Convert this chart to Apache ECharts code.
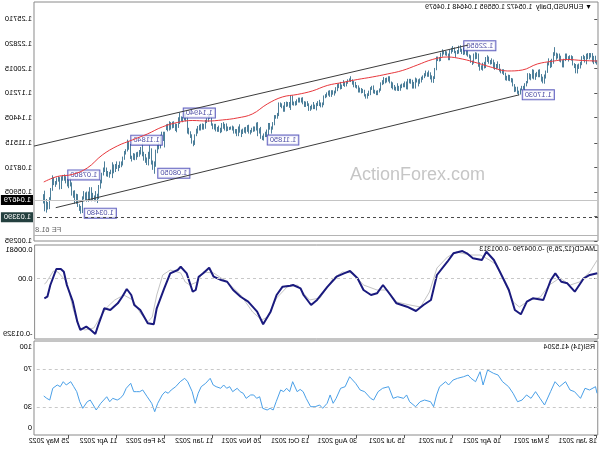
<!DOCTYPE html>
<html><head><meta charset="utf-8">
<script src="https://cdn.jsdelivr.net/npm/echarts@6/dist/echarts.min.js"></script>
<style>
html,body{margin:0;padding:0;background:#fff;}
#chart{width:600px;height:450px;transform:scaleX(-1);}
</style></head>
<body><div id="chart"></div>
<script>
// bar index 0 = 18 Jan 2021 (trading days), labels every 32 bars
const tickIdx=[0,32,64,96,128,160,192,224,256,288,320,352];
const tickLabels=['18 Jan 2021','3 Mar 2021','16 Apr 2021','1 Jun 2021','15 Jul 2021','30 Aug 2021','13 Oct 2021','26 Nov 2021','11 Jan 2022','24 Feb 2022','11 Apr 2022','25 May 2022'];
const priceTicks=[1.25710,1.22820,1.20015,1.17210,1.14405,1.11515,1.08710,1.05905,1.03100,1.00295];

const lows=[
1.2054,1.2070,1.2060,1.2080,1.2136,1.2115,1.2117,1.2058,1.2078,1.2115,
1.2048,1.2010,1.2005,1.1953,1.1955,1.2015,1.2045,1.2100,1.2110,1.2090,1.2115,1.2095,1.2022,1.2023,1.2080,1.2090,1.2125,1.2110,1.2155,1.2065,
1.2025,1.2015,1.2045,1.1960,1.1895,1.1836,1.1840,1.1860,1.1910,1.1910,1.1915,1.1880,1.1885,1.1895,1.1875,1.1885,1.1840,1.1805,1.1762,1.1770,1.1760,1.1712,1.1703,
1.1720,1.1745,1.1740,1.1805,1.1850,1.1865,1.1870,1.1870,1.1875,1.1935,1.1950,1.1955,1.1975,1.2010,1.2000,1.1995,1.2010,1.2060,1.2055,1.2065,1.2085,1.2015,
1.2010,1.1985,1.1995,1.1985,1.2030,1.2120,1.2115,1.2065,1.2050,1.2075,1.2125,1.2145,1.2160,1.2170,1.2165,1.2175,1.2200,1.2180,1.2175,1.2135,1.2185,
1.2200,1.2180,1.2105,1.2105,1.2155,1.2160,1.2170,1.2145,1.2095,1.2090,1.2095,1.1990,1.1890,1.1845,1.1850,1.1885,1.1915,1.1915,1.1920,1.1900,1.1880,1.1850,
1.1835,1.1805,1.1850,1.1780,1.1780,1.1780,1.1835,1.1840,1.1770,1.1772,1.1795,1.1795,1.1785,1.1755,1.1752,1.1755,1.1755,1.1760,1.1770,1.1785,1.1840,1.1860,
1.1850,1.1840,1.1830,1.1820,1.1755,1.1735,1.1705,1.1705,1.1720,1.1725,1.1765,1.1705,1.1695,1.1665,1.1665,1.1690,1.1730,1.1725,1.1735,1.1735,1.1780,1.1790,
1.1795,1.1825,1.1855,1.1860,1.1835,1.1805,1.1800,1.1810,1.1775,1.1770,1.1785,1.1750,1.1725,1.1700,1.1710,1.1685,1.1685,1.1700,1.1680,1.1670,1.1590,1.1565,
1.1565,1.1580,1.1580,1.1530,1.1545,1.1545,1.1540,1.1525,1.1525,1.1580,1.1570,1.1570,1.1600,1.1620,1.1620,1.1620,1.1590,1.1585,1.1585,1.1590,1.1535,
1.1560,1.1575,1.1570,1.1515,1.1515,1.1555,1.1570,1.1465,1.1435,1.1435,1.1360,1.1310,1.1265,1.1310,1.1250,1.1225,1.1225,1.1185,1.1190,1.1205,1.1265,1.1235,
1.1300,1.1290,1.1285,1.1275,1.1255,1.1265,1.1285,1.1265,1.1275,1.1260,1.1225,1.1275,1.1235,1.1235,1.1265,1.1265,1.1300,1.1310,1.1305,1.1295,1.1290,1.1300,1.1320,
1.1280,1.1270,1.1285,1.1285,1.1290,1.1310,1.1315,1.1355,1.1435,1.1400,1.1385,1.1320,1.1310,1.1310,1.1300,1.1300,1.1265,1.1235,1.1135,1.1120,1.1150,
1.1215,1.1255,1.1265,1.1405,1.1415,1.1395,1.1405,1.1375,1.1330,1.1280,1.1295,1.1330,1.1325,1.1310,1.1300,1.1290,1.1305,1.1106,1.1180,1.1140,
1.1095,1.1085,1.1040,1.0885,1.0805,1.0850,1.0910,1.0975,1.0900,1.0905,1.0930,1.0955,1.1005,1.1025,1.1000,1.0995,1.0965,1.0960,1.0965,1.0945,1.0975,1.1080,1.1060,
1.1025,1.0965,1.0900,1.0880,1.0870,1.0835,1.0860,1.0825,1.0810,1.0755,1.0800,1.0760,1.0770,1.0775,1.0825,1.0785,1.0695,1.0635,1.0515,1.0470,1.0490,
1.0490,1.0495,1.0490,1.0495,1.0485,1.0485,1.0505,1.0510,1.0355,1.0348,1.0380,1.0425,1.0460,1.0460,1.0530,1.0555,1.0660,1.0640,1.0660,1.0695,1.0725,1.0725,
1.0630,1.0625,1.0715,1.0680,1.0655,1.0675,1.0610,1.0505,1.0400,1.0395,1.0360,1.0375,1.0465];

const highs=[
1.2093,1.2145,1.2143,1.2175,1.2175,1.2176,1.2175,1.2168,1.2140,1.2155,
1.2140,1.2075,1.2055,1.2045,1.2050,1.2060,1.2140,1.2150,1.2150,1.2140,1.2170,1.2170,1.2110,1.2095,1.2145,1.2170,1.2170,1.2180,1.2243,1.2185,
1.2110,1.2095,1.2115,1.2070,1.1975,1.1930,1.1905,1.1935,1.1990,1.1985,1.1960,1.1945,1.1985,1.1990,1.1935,1.1945,1.1945,1.1855,1.1830,1.1800,1.1800,1.1770,1.1745,
1.1790,1.1790,1.1820,1.1885,1.1890,1.1925,1.1928,1.1915,1.1950,1.1990,1.1990,1.1995,1.2050,1.2080,1.2050,1.2070,1.2100,1.2115,1.2095,1.2135,1.2150,1.2130,
1.2075,1.2065,1.2035,1.2070,1.2170,1.2180,1.2185,1.2170,1.2090,1.2150,1.2160,1.2245,1.2230,1.2230,1.2240,1.2225,1.2265,1.2260,1.2210,1.2200,1.2240,
1.2255,1.2235,1.2215,1.2170,1.2195,1.2200,1.2200,1.2218,1.2180,1.2130,1.2135,1.2135,1.2005,1.1910,1.1920,1.1955,1.1975,1.1955,1.1975,1.1945,1.1920,1.1905,
1.1885,1.1875,1.1885,1.1895,1.1845,1.1870,1.1880,1.1880,1.1880,1.1850,1.1850,1.1830,1.1825,1.1815,1.1800,1.1830,1.1790,1.1810,1.1840,1.1850,1.1910,1.1910,
1.1895,1.1890,1.1900,1.1865,1.1840,1.1770,1.1750,1.1745,1.1755,1.1805,1.1800,1.1785,1.1745,1.1715,1.1705,1.1755,1.1765,1.1775,1.1780,1.1805,1.1810,1.1845,
1.1857,1.1875,1.1910,1.1885,1.1875,1.1855,1.1845,1.1865,1.1815,1.1845,1.1830,1.1820,1.1785,1.1745,1.1750,1.1750,1.1750,1.1745,1.1725,1.1705,1.1690,1.1610,
1.1610,1.1640,1.1625,1.1605,1.1585,1.1615,1.1585,1.1570,1.1600,1.1625,1.1620,1.1625,1.1670,1.1665,1.1665,1.1665,1.1645,1.1625,1.1620,1.1690,1.1695,
1.1615,1.1615,1.1620,1.1615,1.1575,1.1600,1.1610,1.1610,1.1490,1.1465,1.1465,1.1385,1.1335,1.1375,1.1375,1.1300,1.1275,1.1255,1.1230,1.1330,1.1315,1.1385,
1.1380,1.1335,1.1335,1.1320,1.1295,1.1355,1.1350,1.1330,1.1325,1.1310,1.1300,1.1360,1.1335,1.1305,1.1305,1.1335,1.1345,1.1335,1.1330,1.1335,1.1370,1.1365,1.1385,
1.1375,1.1320,1.1345,1.1330,1.1365,1.1365,1.1370,1.1445,1.1480,1.1485,1.1430,1.1410,1.1365,1.1370,1.1365,1.1355,1.1340,1.1310,1.1245,1.1175,1.1245,
1.1280,1.1320,1.1450,1.1485,1.1485,1.1445,1.1450,1.1494,1.1440,1.1365,1.1370,1.1395,1.1390,1.1385,1.1395,1.1365,1.1360,1.1275,1.1275,1.1275,
1.1240,1.1150,1.1125,1.1070,1.0935,1.0945,1.1085,1.1120,1.1045,1.0980,1.1020,1.1045,1.1140,1.1100,1.1065,1.1045,1.1040,1.1025,1.1030,1.1000,1.1135,1.1170,1.1184,
1.1075,1.1055,1.0990,1.0935,1.0935,1.0895,1.0935,1.0905,1.0900,1.0925,1.0840,1.0815,1.0825,1.0865,1.0935,1.0865,1.0805,1.0725,1.0665,1.0565,1.0595,
1.0545,1.0575,1.0640,1.0640,1.0590,1.0590,1.0580,1.0595,1.0535,1.0425,1.0445,1.0560,1.0565,1.0605,1.0600,1.0695,1.0750,1.0740,1.0735,1.0765,1.0786,1.0780,
1.0765,1.0755,1.0765,1.0750,1.0710,1.0750,1.0775,1.0630,1.0525,1.0470,1.0505,1.0600,1.0560];

// red moving average: [bar, price]
const maLine=[[0,1.2090],[10,1.2096],[20,1.2107],[30,1.2087],[40,1.2056],[50,1.1987],[60,1.1976],[70,1.2016],[80,1.2067],[90,1.2113],[100,1.2136],[110,1.2107],[120,1.2044],[130,1.1981],[140,1.1941],[150,1.1907],[160,1.1878],[170,1.1844],[180,1.1810],[190,1.1747],[200,1.1707],[210,1.1678],[220,1.1598],[230,1.1483],[240,1.1438],[250,1.1415],[260,1.1403],[270,1.1409],[280,1.1386],[290,1.1335],[300,1.1254],[310,1.1186],[320,1.1117],[330,1.1014],[340,1.0865],[350,1.0791],[360,1.0768],[369,1.0705]];

const channelUpper=[[86,1.2273],[375.5,1.1116]];
const channelLower=[[52,1.1703],[361,1.0411]];

const pivotIdx=[91,52,222,278,295,313,344,355];
const pivotPrice=[1.2265,1.1703,1.1185,1.1494,1.0805,1.1184,1.0348,1.0786];
const pivotText=['1.22650','1.17030','1.11850','1.14940','1.08050','1.11840','1.03480','1.07860'];

const lastPrice=1.04679, supportLine=1.03390, feLevel=1.0087;

const macdMain=[[0,0.00123],[5,0.00083],[9,0.00004],[15,-0.00317],[20,-0.00116],[24,-0.00078],[28,0.00123],[31,-0.00037],[36,-0.00515],[43,-0.00475],[47,-0.00556],[51,-0.00858],[55,-0.00755],[59,-0.00276],[65,0.00162],[69,0.00442],[74,0.00640],[77,0.00442],[83,0.00482],[87,0.00602],[90,0.00657],[96,0.00602],[100,0.00401],[107,0.00083],[111,-0.00515],[116,-0.00635],[121,-0.00779],[127,-0.00676],[134,-0.00595],[138,-0.00396],[143,-0.00157],[147,-0.00355],[151,-0.00396],[156,-0.00276],[160,0.00004],[165,0.00178],[169,0.00123],[174,0.00042],[180,-0.00197],[187,-0.00515],[191,-0.00635],[196,-0.00396],[198,-0.00236],[203,-0.00157],[205,-0.00173],[210,-0.00197],[214,-0.00396],[218,-0.00795],[223,-0.01097],[227,-0.00795],[233,-0.00556],[238,-0.00437],[243,-0.00276],[247,-0.00078],[251,-0.00037],[256,0.00042],[259,0.00257],[263,0.00123],[266,0.00042],[268,-0.00276],[270,-0.00317],[274,0.00123],[278,0.00281],[280,0.00202],[285,0.00123],[289,-0.00236],[294,-0.00714],[296,-0.01097],[300,-0.01073],[305,-0.00755],[309,-0.00635],[311,-0.00396],[314,-0.00252],[317,-0.00437],[320,-0.00595],[325,-0.00755],[329,-0.00714],[333,-0.01114],[335,-0.01329],[338,-0.01233],[341,-0.01154],[345,-0.01233],[347,-0.01035],[350,-0.00556],[354,-0.00157],[356,0.00162],[358,0.00226],[361,0.00226],[365,-0.00157],[367,-0.00437],[369,-0.00479]];

const macdSignal=[[0,0.00442],[5,0.00155],[12,-0.00085],[18,-0.00157],[25,0.00011],[32,-0.00157],[38,-0.00444],[45,-0.00515],[52,-0.00683],[56,-0.00563],[63,0.00011],[67,0.00322],[72,0.00442],[78,0.00561],[85,0.00561],[94,0.00633],[100,0.00513],[107,0.00250],[112,-0.00324],[118,-0.00683],[125,-0.00635],[134,-0.00563],[140,-0.00276],[147,-0.00276],[156,-0.00157],[163,0.00131],[170,0.00155],[176,0.00011],[185,-0.00468],[192,-0.00515],[198,-0.00276],[200,-0.00157],[207,-0.00204],[214,-0.00468],[220,-0.00922],[224,-0.00994],[230,-0.00803],[238,-0.00396],[247,-0.00085],[256,0.00131],[263,0.00155],[267,-0.00085],[272,-0.00157],[275,-0.00085],[278,0.00131],[285,0.00202],[290,0.00083],[294,-0.00396],[297,-0.00922],[300,-0.01042],[305,-0.00827],[310,-0.00515],[316,-0.00396],[322,-0.00515],[327,-0.00683],[332,-0.00946],[336,-0.01185],[342,-0.01233],[346,-0.01161],[350,-0.00707],[354,-0.00085],[360,0.00155],[363,0.00178],[368,-0.00109],[369,-0.00131]];

const rsiLine=[[0,44.4],[1,51.4],[5,47.9],[8,49.7],[11,39.0],[15,46.1],[18,47.9],[21,56.7],[25,51.4],[28,56.7],[31,46.1],[35,31.9],[38,39.0],[41,46.1],[44,39.0],[47,42.6],[50,37.2],[53,35.4],[56,44.4],[59,51.4],[63,56.7],[66,63.8],[69,65.6],[73,69.1],[76,53.2],[78,67.3],[81,56.7],[84,60.3],[86,63.8],[89,62.0],[93,60.3],[96,58.5],[99,53.2],[101,56.7],[105,51.4],[107,42.6],[109,30.1],[111,35.4],[115,37.2],[118,35.4],[121,30.1],[125,35.4],[127,42.6],[129,39.0],[133,40.7],[136,39.0],[139,51.4],[143,49.7],[146,46.1],[149,37.2],[151,39.0],[155,46.1],[158,47.9],[161,55.0],[165,62.0],[168,51.4],[171,49.7],[174,39.0],[176,33.7],[178,42.6],[180,33.7],[183,28.4],[185,31.9],[188,30.1],[191,30.1],[194,39.0],[196,46.1],[198,48.5],[200,46.1],[203,56.7],[205,46.1],[207,49.7],[209,46.1],[211,47.9],[214,35.4],[216,26.6],[218,28.4],[220,26.6],[223,28.4],[225,40.7],[227,39.0],[229,42.6],[231,42.6],[234,39.0],[236,44.4],[238,46.1],[240,49.7],[243,46.1],[245,51.4],[247,49.7],[249,53.2],[251,49.7],[254,51.4],[256,53.2],[258,60.3],[261,55.0],[264,51.4],[266,44.4],[268,33.7],[270,46.1],[273,56.7],[275,60.3],[278,56.7],[281,51.4],[284,47.9],[286,44.4],[288,46.1],[290,42.6],[293,33.7],[295,24.8],[297,33.7],[300,40.7],[303,47.9],[305,46.1],[307,46.1],[309,46.1],[311,55.0],[314,49.7],[316,42.6],[318,39.0],[320,37.2],[323,39.0],[325,35.4],[327,40.7],[329,37.2],[331,33.7],[334,26.6],[336,31.9],[338,37.2],[340,35.4],[343,28.4],[345,35.4],[347,46.1],[349,51.4],[351,56.7],[354,53.2],[356,56.7],[358,51.4],[360,53.2],[363,49.7],[365,37.2],[367,39.0],[369,41.5]];

const FONT='Liberation Sans';
const chart=echarts.init(document.getElementById('chart'),null,{renderer:'canvas'});
const barColor='#4d7f9a';
const xBase={type:'value',min:-0.5,max:375.5,axisLine:{show:false},axisTick:{show:false},axisLabel:{show:false},splitLine:{show:false}};
const near=(a,b)=>Math.abs(a-b)<1e-7;

const option={
  animation:false,
  backgroundColor:'#fff',
  grid:[
    {left:2,right:34,top:2,height:239,show:true,borderColor:'#8a8a8a',borderWidth:1},
    {left:2,right:34,top:245,height:94,show:true,borderColor:'#8a8a8a',borderWidth:1},
    {left:2,right:34,top:341,height:94,show:true,borderColor:'#8a8a8a',borderWidth:1}
  ],
  xAxis:[
    Object.assign({gridIndex:0},xBase),
    Object.assign({gridIndex:1},xBase),
    {gridIndex:2,type:'value',min:-0.5,max:375.5,splitLine:{show:false},
     axisLine:{show:false},
     axisTick:{show:true,customValues:tickIdx,length:3,lineStyle:{color:'#555'}},
     axisLabel:{show:true,customValues:tickIdx,align:'left',margin:3,fontSize:7,fontFamily:FONT,color:'#000',
       formatter:v=>tickLabels[tickIdx.indexOf(Math.round(v))]||''}}
  ],
  yAxis:[
    {gridIndex:0,type:'value',position:'right',min:1.00295,max:1.27656,splitLine:{show:false},axisLine:{show:false},
     axisTick:{show:true,customValues:priceTicks,length:3,lineStyle:{color:'#555'}},
     axisLabel:{customValues:priceTicks,margin:2,fontSize:7.5,fontFamily:FONT,color:'#000',formatter:v=>v.toFixed(5)}},
    {gridIndex:1,type:'value',position:'right',min:-0.01449,max:0.00801,splitLine:{show:false},axisLine:{show:false},
     axisTick:{show:true,customValues:[0.00681,0,-0.01329],length:3,lineStyle:{color:'#555'}},
     axisLabel:{customValues:[0.00681,0,-0.01329],margin:2,fontSize:7.5,fontFamily:FONT,color:'#000',
       formatter:v=>near(v,0)?'0.00':v.toFixed(5)}},
    {gridIndex:2,type:'value',position:'right',min:0,max:100,splitLine:{show:false},axisLine:{show:false},
     axisTick:{show:true,customValues:[100,70,30,0],length:3,lineStyle:{color:'#555'}},
     axisLabel:{customValues:[100,70,30,0],margin:2,fontSize:7.5,fontFamily:FONT,color:'#000',
       formatter:v=>v===100?'{t|100}':(v===0?'{b|0}':String(v)),
       rich:{t:{fontSize:7.5,fontFamily:FONT,padding:[12,0,0,0]},b:{fontSize:7.5,fontFamily:FONT,padding:[0,0,14,0]}}}}
  ],
  graphic:[
    {type:'text',left:8,top:4,style:{text:'\u25BC EURUSD,Daily  1.05472 1.05595 1.04648 1.04679',fontSize:7,fontFamily:FONT,fill:'#000'}},
    {type:'text',left:5,top:246,style:{text:'MACD(12,26,9) -0.004790 -0.001313',fontSize:7,fontFamily:FONT,fill:'#000'}},
    {type:'text',left:5,top:344,style:{text:'RSI(14) 41.5204',fontSize:7,fontFamily:FONT,fill:'#000'}},
    {type:'text',x:250,y:175,scaleX:-1,style:{text:'ActionForex.com',fontSize:18,fontFamily:FONT,fill:'#c6c6c6',align:'left',verticalAlign:'middle'}}
  ],
  series:[
    {type:'custom',xAxisIndex:0,yAxisIndex:0,silent:true,
     data:lows.map((l,i)=>[i,l,highs[i]]),encode:{x:0,y:[1,2]},
     renderItem:function(params,api){
       const a=api.coord([api.value(0),api.value(1)]);
       const b=api.coord([api.value(0),api.value(2)]);
       const x=Math.round(a[0])+0.5;
       return {type:'line',shape:{x1:x,y1:a[1]+0.5,x2:x,y2:b[1]-0.5},style:{stroke:barColor,lineWidth:1}};
     }},
    {type:'line',xAxisIndex:0,yAxisIndex:0,data:maLine,symbol:'none',smooth:0.4,silent:true,
     lineStyle:{color:'#e8383d',width:1},
     markLine:{symbol:['none','none'],silent:true,animation:false,
       data:[
        {yAxis:lastPrice,lineStyle:{color:'#c4c4c4',type:'solid',width:1},
         label:{show:true,position:'end',distance:1,formatter:'1.04679',backgroundColor:'#000',color:'#fff',fontSize:7.5,fontFamily:FONT,padding:[1,3,1,2]}},
        {yAxis:supportLine,lineStyle:{color:'#4a4a4a',type:[3,3],width:1},
         label:{show:true,position:'end',distance:1,formatter:'1.03390',backgroundColor:'#24403f',color:'#fff',fontSize:7.5,fontFamily:FONT,padding:[1,3,1,2]}},
        {yAxis:feLevel,lineStyle:{color:'#b4b4b4',type:'solid',width:1},
         label:{show:true,position:'insideEndTop',distance:1,formatter:'FE 61.8',color:'#666',fontSize:7.5,fontFamily:FONT}}
       ]}},
    {type:'line',xAxisIndex:0,yAxisIndex:0,data:channelUpper,symbol:'none',silent:true,lineStyle:{color:'#3c3c3c',width:1}},
    {type:'line',xAxisIndex:0,yAxisIndex:0,data:channelLower,symbol:'none',silent:true,lineStyle:{color:'#3c3c3c',width:1}},
    {type:'scatter',xAxisIndex:0,yAxisIndex:0,silent:true,symbolSize:1,itemStyle:{color:'rgba(0,0,0,0)'},
     data:pivotIdx.map((v,k)=>[v,pivotPrice[k],pivotText[k]]),
     label:{show:true,position:'left',distance:3,formatter:p=>p.data[2],backgroundColor:'#fff',borderColor:'#3b3bb0',borderWidth:1,
       color:'#1c1c8c',fontSize:7.5,fontFamily:FONT,padding:[1,2,0,2]}},
    {type:'line',xAxisIndex:1,yAxisIndex:1,data:macdSignal,symbol:'none',silent:true,lineStyle:{color:'#c4c4c4',width:1},
     markLine:{symbol:['none','none'],silent:true,label:{show:false},data:[{yAxis:0,lineStyle:{color:'#c8c8c8',type:[3,3],width:1}}]}},
    {type:'line',xAxisIndex:1,yAxisIndex:1,data:macdMain,symbol:'none',silent:true,lineStyle:{color:'#1a1a7e',width:2}},
    {type:'line',xAxisIndex:2,yAxisIndex:2,data:rsiLine,symbol:'none',silent:true,lineStyle:{color:'#4aa0e8',width:1},
     markLine:{symbol:['none','none'],silent:true,label:{show:false},
       data:[{yAxis:70,lineStyle:{color:'#c8c8c8',type:[3,3],width:1}},{yAxis:30,lineStyle:{color:'#c8c8c8',type:[3,3],width:1}}]}}
  ]
};
chart.setOption(option);
</script>
</body></html>
